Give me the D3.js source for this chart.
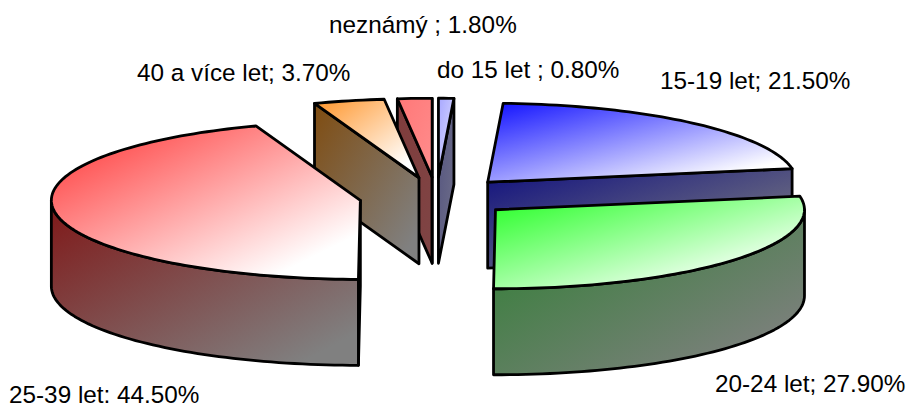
<!DOCTYPE html>
<html><head><meta charset="utf-8">
<script src="https://cdn.jsdelivr.net/npm/d3@7"></script>
<style>html,body{margin:0;padding:0;background:#fff}svg{display:block}text{font-family:"Liberation Sans",Arial,sans-serif;font-size:24.3px;fill:#000}</style>
</head><body><div id="c"></div>
<script>
const categories = ["do 15 let ", "15-19 let", "20-24 let", "25-39 let", "40 a více let", "neznámý "];
const values = [0.8, 21.5, 27.9, 44.5, 3.7, 1.8];
const valueLabels = ["0.80%", "21.50%", "27.90%", "44.50%", "3.70%", "1.80%"];
const faceColors = ["#a8a8ff", "#1010ff", "#22ff22", "#ff3030", "#ff9428", "#ff7878"];
const faceEndColors = ["#d8d8ff", "#ffffff", "#ffffff", "#ffffff", "#ffffff", "#ff8a8a"];
const sideColors = ["#54547f", "#10107f", "#2c7f30", "#7f1717", "#7f4c10", "#7f3c3c"];
const sideEndColors = ["#6c6c88", "#808080", "#808080", "#808080", "#808080", "#7f4444"];
const labelX = [437, 660, 715, 9, 137, 329];
const labelY = [78, 89, 392, 403, 81, 33];

const W = 906, H = 403, cx = 436.5, cy = 197, rx = 309, ry = 79, depth = 86, explode = 0.25;
const x = d3.scaleLinear().domain([-1, 1]).range([-rx, rx]);
const y = d3.scaleLinear().domain([-1, 1]).range([ry, -ry]);
const svg = d3.select("#c").append("svg").attr("width", W).attr("height", H);
const defs = svg.append("defs");
function grad(id, a, b, end) {
  const g = defs.append("linearGradient").attr("id", id).attr("x1", 0).attr("y1", 0).attr("x2", 1).attr("y2", 1);
  g.append("stop").attr("offset", 0).attr("stop-color", a);
  g.append("stop").attr("offset", end).attr("stop-color", b);
}
const arcs = d3.pie().sort(null).startAngle(0).endAngle(2 * Math.PI)(values);
const slices = arcs.map((a, i) => {
  const m = (a.startAngle + a.endAngle) / 2;
  return { i, a0: a.startAngle, a1: a.endAngle, m,
    ox: cx + x(Math.sin(m) * explode), oy: cy + y(Math.cos(m) * explode) };
}).sort((p, q) => Math.cos(q.m) - Math.cos(p.m));
const line = d3.line();
const stroke = f => f.attr("stroke", "#000").attr("stroke-width", 2.8).attr("stroke-linejoin", "round");
slices.forEach(s => {
  grad("f" + s.i, faceColors[s.i], faceEndColors[s.i], 0.85);
  grad("s" + s.i, sideColors[s.i], sideEndColors[s.i], 0.9);
  const P = (t, d = 0) => [s.ox + x(Math.sin(t)), s.oy + y(Math.cos(t)) + d];
  const O = (d = 0) => [s.ox, s.oy + d];
  const g = svg.append("g");
  const side = pts => stroke(g.append("path").attr("d", line(pts) + "Z").attr("fill", `url(#s${s.i})`));
  if (Math.cos(s.a0 - Math.PI / 2) < 0) side([O(), P(s.a0), P(s.a0, depth), O(depth)]);
  if (Math.cos(s.a1 + Math.PI / 2) < 0) side([O(), P(s.a1), P(s.a1, depth), O(depth)]);
  const w0 = Math.max(s.a0, Math.PI / 2), w1 = Math.min(s.a1, 3 * Math.PI / 2);
  if (w1 > w0) {
    const ts = d3.range(0, 61).map(k => w0 + (w1 - w0) * k / 60);
    side(ts.map(t => P(t)).concat(ts.slice().reverse().map(t => P(t, depth))));
  }
  const n = Math.max(2, Math.ceil((s.a1 - s.a0) * 40));
  const rim = d3.range(0, n + 1).map(k => P(s.a0 + (s.a1 - s.a0) * k / n));
  stroke(g.append("path").attr("d", line([O()].concat(rim)) + "Z").attr("fill", `url(#f${s.i})`));
});
svg.append("g").selectAll("text").data(categories).join("text")
  .attr("x", (d, i) => labelX[i]).attr("y", (d, i) => labelY[i])
  .style("white-space", "pre")
  .text((d, i) => `${d}; ${valueLabels[i]}`);
</script></body></html>
